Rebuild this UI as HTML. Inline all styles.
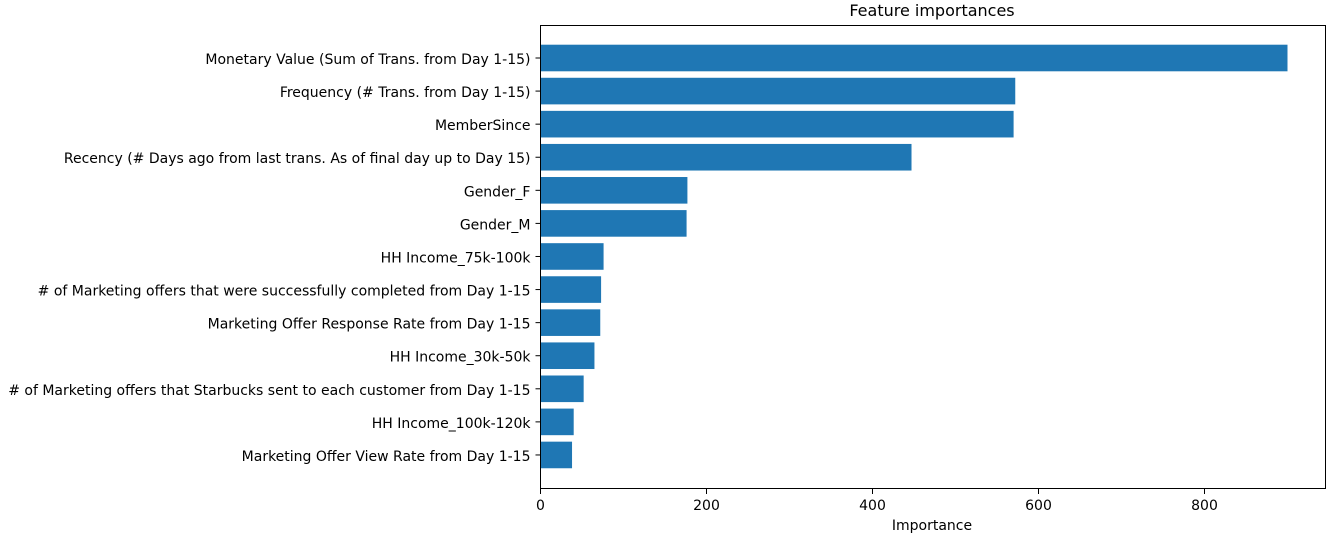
<!DOCTYPE html>
<html><head><meta charset="utf-8"><style>
body{margin:0;background:#fff;}
svg{display:block;font-family:"DejaVu Sans","Liberation Sans",sans-serif;}
</style></head><body>
<svg id="chart" width="1332" height="537">
<text x="932" y="16" text-anchor="middle" font-size="16" fill="#000">Feature importances</text>
<g id="bars"></g>
<g id="yticks"></g>
<g id="xticks"></g>
<rect x="540.5" y="25.5" width="785" height="463" fill="none" stroke="#000" stroke-width="1"/>
<text x="932" y="530" text-anchor="middle" font-size="14">Importance</text>
</svg>
<script>
const categories=["Monetary Value (Sum of Trans. from Day 1-15)","Frequency (# Trans. from Day 1-15)","MemberSince","Recency (# Days ago from last trans. As of final day up to Day 15)","Gender_F","Gender_M","HH Income_75k-100k","# of Marketing offers that were successfully completed from Day 1-15","Marketing Offer Response Rate from Day 1-15","HH Income_30k-50k","# of Marketing offers that Starbucks sent to each customer from Day 1-15","HH Income_100k-120k","Marketing Offer View Rate from Day 1-15"];
const importances=[900,572,570,447,177,176,76,73,72,65,52,40,38];
const xTicks=[0,200,400,600,800];
const ns="http://www.w3.org/2000/svg";
const x0=540.5, pxPer=0.83;
const xs=v=>x0+v*pxPer;
const yc=i=>58+i*33.08;
const bars=document.getElementById('bars'),yt=document.getElementById('yticks'),xt=document.getElementById('xticks');
categories.forEach((c,i)=>{
 const r=document.createElementNS(ns,'rect');
 r.setAttribute('x',x0);r.setAttribute('y',yc(i)-13.3);
 r.setAttribute('width',xs(importances[i])-x0);r.setAttribute('height',26.6);
 r.setAttribute('fill','#1f77b4');
 
 
 bars.appendChild(r);
 const l=document.createElementNS(ns,'line');
 l.setAttribute('x1',x0-5);l.setAttribute('x2',x0);l.setAttribute('y1',yc(i));l.setAttribute('y2',yc(i));l.setAttribute('stroke','#000');
 yt.appendChild(l);
 const t=document.createElementNS(ns,'text');
 t.setAttribute('x',x0-10);t.setAttribute('y',yc(i)+6);t.setAttribute('text-anchor','end');t.setAttribute('font-size','14');
 t.textContent=c;
 
 
 yt.appendChild(t);
});
xTicks.forEach(v=>{
 const l=document.createElementNS(ns,'line');
 l.setAttribute('x1',xs(v));l.setAttribute('x2',xs(v));l.setAttribute('y1',489);l.setAttribute('y2',494);l.setAttribute('stroke','#000');
 xt.appendChild(l);
 const t=document.createElementNS(ns,'text');
 t.setAttribute('x',xs(v));t.setAttribute('y',510);t.setAttribute('text-anchor','middle');t.setAttribute('font-size','14');
 t.textContent=v;
 
 
 xt.appendChild(t);
});
</script>
</body></html>
